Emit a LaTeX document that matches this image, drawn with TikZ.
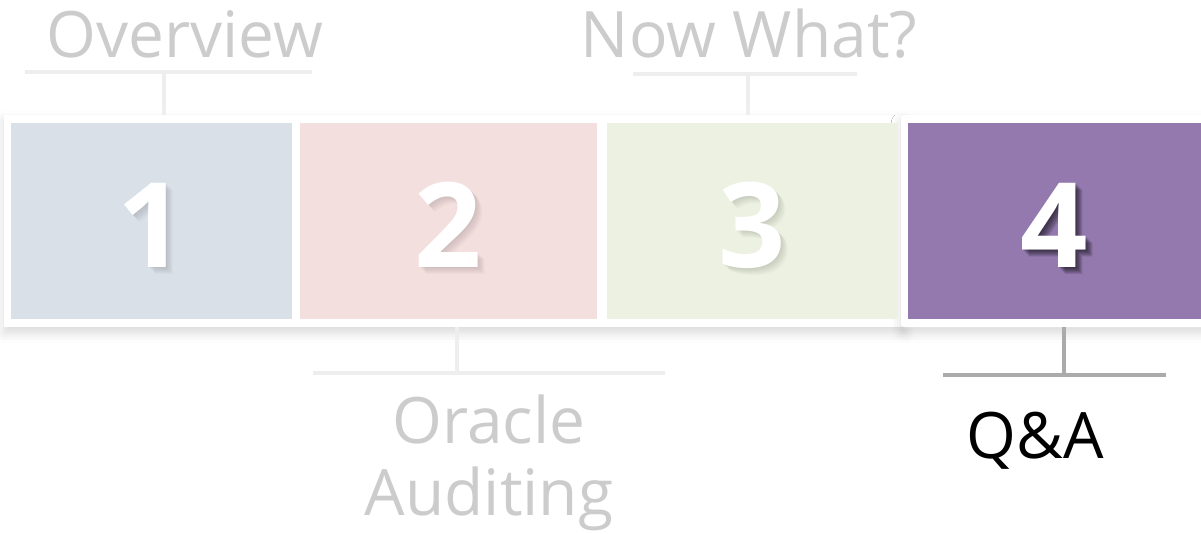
\documentclass[tikz,border=0pt]{standalone}
\usepackage{fontspec}
\setmainfont{Open Sans}
\usetikzlibrary{shadows.blur}

\definecolor{boxblue}{HTML}{DAE0E8}
\definecolor{boxpink}{HTML}{F4DFDF}
\definecolor{boxgreen}{HTML}{EDF1E1}
\definecolor{boxpurple}{HTML}{9379AE}
\definecolor{fadetext}{HTML}{CCCCCC}
\definecolor{fadeline}{HTML}{EEEEEE}
\definecolor{liveline}{HTML}{ABABAB}

\tikzset{
  panel/.style={fill=white, inner sep=0pt,
    blur shadow={shadow xshift=0pt, shadow yshift=-6pt, shadow blur radius=10pt, shadow opacity=15}},
  stagebox/.style={inner sep=0pt, minimum height=196pt},
  digit/.style={anchor=base, text=white, font=\bfseries\fontsize{118}{118}\selectfont},
  topic/.style={anchor=base, text=fadetext, font=\fontsize{64}{72}\selectfont},
  tee/.style={draw=fadeline, line width=4pt},
}

\begin{document}
\begin{tikzpicture}[x=1pt,y=-1pt]
\useasboundingbox (0,0) rectangle (1201,534);

% white strips behind the stages
\node[panel, minimum width=901pt, minimum height=212pt] (row) at (454.5,221) {};
\node[panel, rounded corners=3pt, minimum width=309pt, minimum height=212pt] (live) at (1055.5,221) {};

% the four stages, each digit with a soft shadow
\foreach \n/\x/\w/\c/\s in {1/151.5/281/boxblue/4, 2/448.5/297/boxpink/4,
                           3/752.5/291/boxgreen/4, 4/1054.5/293/boxpurple/22}{
  \node[stagebox, fill=\c, minimum width=\w pt] (s\n) at (\x,221) {};
  \foreach \d in {1,2,...,7}
    \node[digit, text=black, text opacity=\s/200] at (\x+\d,268+\d) {\n};
  \node[digit] (d\n) at (\x,268) {\n};
}

% topic labels
\node[topic] (ov) at (184.5,58) {Overview};
\node[topic] (nw) at (749,58) {Now What?};
\node[topic, align=center] (oa) at (489,515) {Oracle\\Auditing};
\node[topic, text=black] (qa) at (1035,458) {Q\&A};

% brackets from labels to stages
\coordinate (ov-a) at (25,72);  \coordinate (ov-b) at (312,72);  \coordinate (ov-c) at (164,72);
\coordinate (nw-a) at (633,74); \coordinate (nw-b) at (857,74);  \coordinate (nw-c) at (748,74);
\coordinate (oa-a) at (313,373); \coordinate (oa-b) at (665,373); \coordinate (oa-c) at (457,373);
\coordinate (qa-a) at (943,375); \coordinate (qa-b) at (1166,375); \coordinate (qa-c) at (1064,375);

\draw[tee] (ov-a) -- (ov-b) (ov-c) -- (ov-c |- row.north);
\draw[tee] (nw-a) -- (nw-b) (nw-c) -- (nw-c |- row.north);
\draw[tee] (oa-a) -- (oa-b) (oa-c) -- (oa-c |- row.south);
\draw[tee, draw=liveline] (qa-a) -- (qa-b) (qa-c) -- (qa-c |- live.south);
\end{tikzpicture}
\end{document}
